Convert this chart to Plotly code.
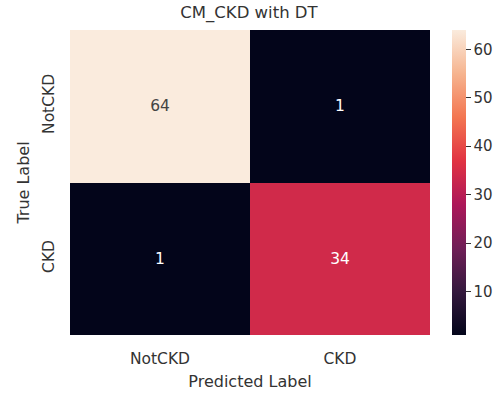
import plotly.graph_objects as go

# Confusion matrix for the decision tree classifier on the CKD data
classes = ["NotCKD", "CKD"]
counts = [
    [64, 1],
    [1, 34],
]

# seaborn "rocket" colormap
rocket = [
    [0.0, "#03051a"],
    [0.143, "#35193e"],
    [0.286, "#701f57"],
    [0.429, "#ad1759"],
    [0.571, "#e13342"],
    [0.714, "#f37651"],
    [0.857, "#f6b48f"],
    [1.0, "#faebdd"],
]

text_col = "#333333"
font_family = "DejaVu Sans"

fig = go.Figure(
    go.Heatmap(
        z=counts,
        x=classes,
        y=classes,
        colorscale=rocket,
        zmin=1,
        zmax=64,
        texttemplate="%{z}",
        textfont=dict(size=15.5, family=font_family),
        colorbar=dict(
            x=1.061,
            xanchor="left",
            xref="paper",
            xpad=0,
            y=0.5,
            yanchor="middle",
            ypad=0,
            len=1.0,
            lenmode="fraction",
            thickness=14,
            outlinewidth=0,
            ticks="outside",
            ticklen=5,
            tickwidth=1,
            tickcolor=text_col,
            tickvals=[10, 20, 30, 40, 50, 60],
            tickfont=dict(size=15, color=text_col, family=font_family),
        ),
    )
)

fig.update_layout(
    width=501,
    height=394,
    margin=dict(l=70, r=71, t=30, b=59, autoexpand=False),
    paper_bgcolor="white",
    plot_bgcolor="white",
    font=dict(family=font_family, color=text_col),
    title=dict(
        text="CM_CKD with DT",
        x=0.497,
        xanchor="center",
        y=0.968,
        yanchor="middle",
        font=dict(size=16.5, color=text_col, family=font_family),
    ),
)

fig.update_xaxes(
    title=dict(text="Predicted Label", font=dict(size=16, color=text_col), standoff=9),
    tickfont=dict(size=15.5, color=text_col),
    ticks="",
    ticklabelstandoff=12,
    showgrid=False,
    zeroline=False,
    showline=False,
)
fig.update_yaxes(
    title=dict(text="True Label", font=dict(size=16, color=text_col), standoff=6),
    tickfont=dict(size=15.5, color=text_col),
    tickangle=-90,
    ticks="",
    ticklabelstandoff=12,
    autorange="reversed",
    showgrid=False,
    zeroline=False,
    showline=False,
)

fig.write_html("out.html")
